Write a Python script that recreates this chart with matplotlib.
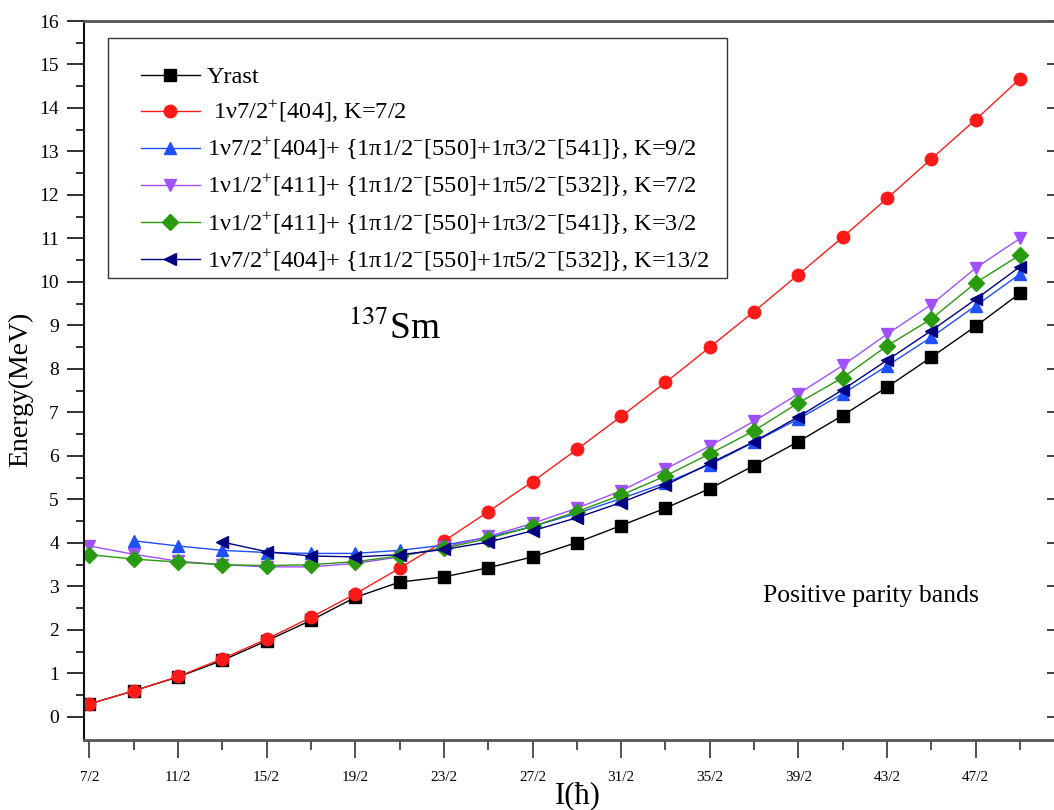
import matplotlib.pyplot as plt
from matplotlib.patches import Rectangle
import numpy as np

plt.rcParams['font.family'] = ['Liberation Serif', 'DejaVu Serif']
plt.rcParams['mathtext.fontset'] = 'stix'

# spins (in units of hbar), 7/2 ... 49/2
spin = np.arange(7, 50, 2) / 2

yrast = [0.30, 0.60, 0.92, 1.30, 1.75, 2.22, 2.75, 3.10, 3.22, 3.43, 3.68,
         4.01, 4.40, 4.80, 5.25, 5.78, 6.33, 6.93, 7.58, 8.27, 8.98, 9.74]
k72_404 = [0.30, 0.60, 0.93, 1.34, 1.79, 2.29, 2.83, 3.42, 4.04, 4.72, 5.41,
           6.15, 6.91, 7.69, 8.50, 9.32, 10.17, 11.03, 11.92, 12.83, 13.73, 14.67]
# K=9/2 band starts at 9/2
k92 = [4.05, 3.93, 3.83, 3.78, 3.76, 3.76, 3.83, 3.95, 4.13, 4.38, 4.68,
       5.02, 5.38, 5.80, 6.32, 6.85, 7.43, 8.07, 8.73, 9.45, 10.18]
k72_411 = [3.93, 3.74, 3.58, 3.50, 3.45, 3.45, 3.53, 3.68, 3.90, 4.15, 4.45,
           4.80, 5.20, 5.70, 6.23, 6.80, 7.43, 8.08, 8.80, 9.48, 10.32, 11.00]
k32 = [3.73, 3.63, 3.56, 3.50, 3.48, 3.50, 3.57, 3.70, 3.88, 4.10, 4.38,
       4.72, 5.10, 5.54, 6.05, 6.58, 7.22, 7.80, 8.53, 9.15, 9.98, 10.62]
# K=13/2 band starts at 13/2
k132 = [4.02, 3.80, 3.70, 3.68, 3.73, 3.85, 4.02, 4.28, 4.58, 4.93, 5.33,
        5.83, 6.33, 6.90, 7.52, 8.20, 8.88, 9.60, 10.35]

P = r'$^{\mathregular{+}}$'
M = r'$^{\mathregular{-}}$'
labels = ['Yrast',
          ' 1\u03bd7/2' + P + '[404], K=7/2',
          '1\u03bd7/2' + P + '[404]+ {1\u03c01/2' + M + '[550]+1\u03c03/2' + M + '[541]}, K=9/2',
          '1\u03bd1/2' + P + '[411]+ {1\u03c01/2' + M + '[550]+1\u03c05/2' + M + '[532]}, K=7/2',
          '1\u03bd1/2' + P + '[411]+ {1\u03c01/2' + M + '[550]+1\u03c03/2' + M + '[541]}, K=3/2',
          '1\u03bd7/2' + P + '[404]+ {1\u03c01/2' + M + '[550]+1\u03c05/2' + M + '[532]}, K=13/2']

tick_spins = np.arange(7, 50, 4) / 2
tick_labels = ['%d/2' % int(s * 2) for s in tick_spins]

fig = plt.figure(figsize=(10.54, 8.1), dpi=100)
ax = fig.add_axes([84 / 1054, 70 / 810, 970 / 1054, 719 / 810])

ax.plot(spin, yrast, color='black', marker='s', ms=8, lw=1, label=labels[0])
ax.plot(spin, k72_404, color='#ff1a1a', marker='o', ms=9, lw=1, label=labels[1])
ax.plot(spin[1:], k92, color='#1f4fff', marker='^', ms=9, lw=1, label=labels[2])
ax.plot(spin, k72_411, color='#a050ff', marker='v', ms=9, lw=1, label=labels[3])
ax.plot(spin, k32, color='#2a9a0e', marker='D', ms=8, lw=1, label=labels[4])
ax.plot(spin[3:], k132, color='#000080', marker='<', ms=9, lw=1, label=labels[5])

ax.set_xlim(3.376, 25.27)
ax.set_ylim(-0.53, 16)

ax.set_xticks(tick_spins)
ax.set_xticklabels(tick_labels)
ax.set_xticks(np.arange(9, 50, 4) / 2, minor=True)
ax.set_yticks(np.arange(0, 17, 1))
ax.set_yticks(np.arange(0.5, 16, 1), minor=True)

ax.tick_params(axis='x', which='major', direction='out', length=13, width=1.3,
               labelsize=11, pad=9, color='#444')
ax.tick_params(axis='x', which='minor', direction='out', length=7, width=1.3, color='#444')
ax.tick_params(axis='y', which='major', direction='out', length=12, width=1.3,
               labelsize=14, pad=6, color='#222')
ax.tick_params(axis='y', which='minor', direction='out', length=6, width=1.3, color='#222')

# short inward ticks along the (clipped) right edge
sec = ax.secondary_yaxis(1.004)
sec.set_yticks(np.arange(0, 17, 1))
sec.tick_params(direction='in', length=8, width=1.3, labelright=False, color='#333')
sec.spines['right'].set_visible(False)

for side in ['top', 'bottom']:
    ax.spines[side].set_color('#555')
    ax.spines[side].set_linewidth(2)
ax.spines['left'].set_color('#111')
ax.spines['left'].set_linewidth(1.5)
ax.spines['right'].set_visible(False)

ax.set_xlabel('I(\u0127)', fontsize=22)
ax.xaxis.set_label_coords(0.509, -0.057)
ax.set_ylabel('Energy(MeV)', fontsize=20)
ax.yaxis.set_label_coords(-0.052, 0.487)

ax.text(9.33, 8.7, '$^{137}$Sm', fontsize=27, ha='left', va='baseline')
ax.text(18.7, 2.64, 'Positive parity bands', fontsize=18.5, ha='left', va='baseline')

# legend entries without frame, box drawn separately
leg = ax.legend(loc='upper left', bbox_to_anchor=(141 / 1054, (810 - 66) / 810),
                bbox_transform=fig.transFigure, borderaxespad=0, borderpad=0,
                fontsize=17.6, handlelength=2.4, labelspacing=0.43,
                handletextpad=0.3, frameon=False)
fig.patches.append(Rectangle((108 / 1054, (810 - 278) / 810), 619 / 1054, 240 / 810,
                             transform=fig.transFigure, fill=False,
                             edgecolor='#333', lw=1, zorder=5))

fig.savefig('out.png', dpi=100)
